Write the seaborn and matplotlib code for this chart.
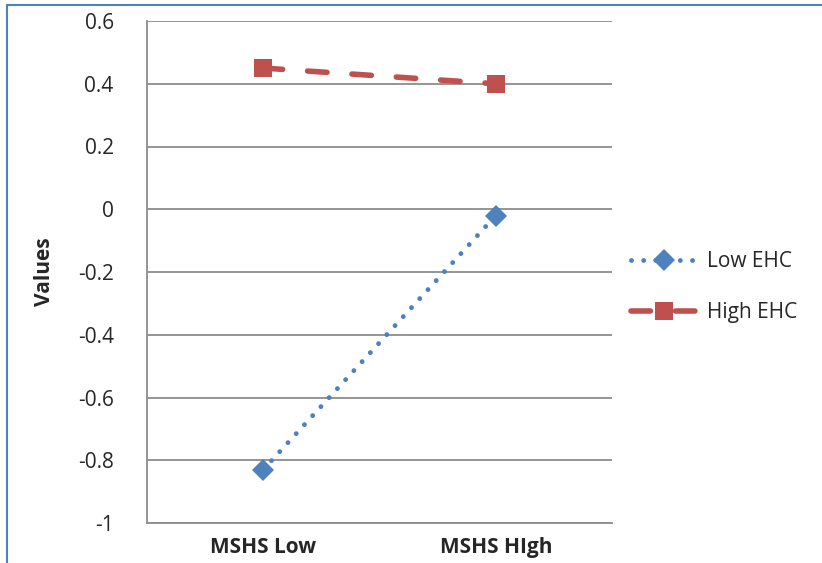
import matplotlib
matplotlib.use("Agg")
import matplotlib.pyplot as plt
import seaborn as sns
import pandas as pd
from matplotlib.lines import Line2D

categories = ["MSHS Low", "MSHS HIgh"]
low_ehc = [-0.83, -0.02]
high_ehc = [0.45, 0.40]
series_names = ["Low EHC", "High EHC"]
y_ticks = [0.6, 0.4, 0.2, 0, -0.2, -0.4, -0.6, -0.8, -1]
y_tick_labels = ["0.6", "0.4", "0.2", "0", "-0.2", "-0.4", "-0.6", "-0.8", "-1"]

sns.set_theme(style="white")
plt.rcParams['font.family'] = ['Open Sans', 'DejaVu Sans']

fig = plt.figure(figsize=(8.22, 5.63), dpi=100)
ax = fig.add_axes([147/822, 1 - 523/563, (612-147)/822, (523-21)/563])

blue = "#4F81BD"
red = "#C0504D"

df_low = pd.DataFrame({"cat": categories, "val": low_ehc})
df_high = pd.DataFrame({"cat": categories, "val": high_ehc})

sns.lineplot(data=df_low, x="cat", y="val", ax=ax, sort=False, color=blue,
             linewidth=3.5, marker="D", markersize=11, markeredgewidth=0,
             label=series_names[0])
sns.lineplot(data=df_high, x="cat", y="val", ax=ax, sort=False, color=red,
             linewidth=4, marker="s", markersize=13, markeredgewidth=0,
             label=series_names[1])

lines = ax.get_lines()
lines[0].set_linestyle((0, (0.01, 2.5)))
lines[0].set_dash_capstyle("round")
lines[1].set_linestyle((0, (3.5, 4.5)))
lines[1].set_dash_capstyle("round")

ax.set_xlim(-0.5, 1.5)
ax.set_ylim(-1, 0.6)
ax.set_yticks(y_ticks)
ax.set_yticklabels(y_tick_labels)
ax.grid(axis="y", color="#8C8C8C", linewidth=1.3)
ax.set_axisbelow(True)
for s in ["top", "right"]:
    ax.spines[s].set_visible(False)
for s in ["left", "bottom"]:
    ax.spines[s].set_color("#8C8C8C")
    ax.spines[s].set_linewidth(1.3)
ax.tick_params(axis="y", labelsize=15, pad=24, length=0)
ax.tick_params(axis="x", labelsize=15, pad=10, length=0)
for t in ax.get_xticklabels():
    t.set_fontweight("bold")
ax.set_xlabel("")
ax.set_ylabel("Values", fontsize=15, fontweight="bold", labelpad=16)

h, l = ax.get_legend_handles_labels()
ax.legend(h, l, loc="center left", bbox_to_anchor=(1.0, 0.47), frameon=False,
          fontsize=15, handlelength=3.2, labelspacing=1.45, handletextpad=0.45)

# chart border (left and top visible)
fig.add_artist(Line2D([7/822, 7/822], [0, 1 - 5/563], color=blue, linewidth=1.5,
                      transform=fig.transFigure))
fig.add_artist(Line2D([7/822, 1], [1 - 5/563, 1 - 5/563], color=blue, linewidth=1.5,
                      transform=fig.transFigure))

fig.savefig("out.png", dpi=100)
